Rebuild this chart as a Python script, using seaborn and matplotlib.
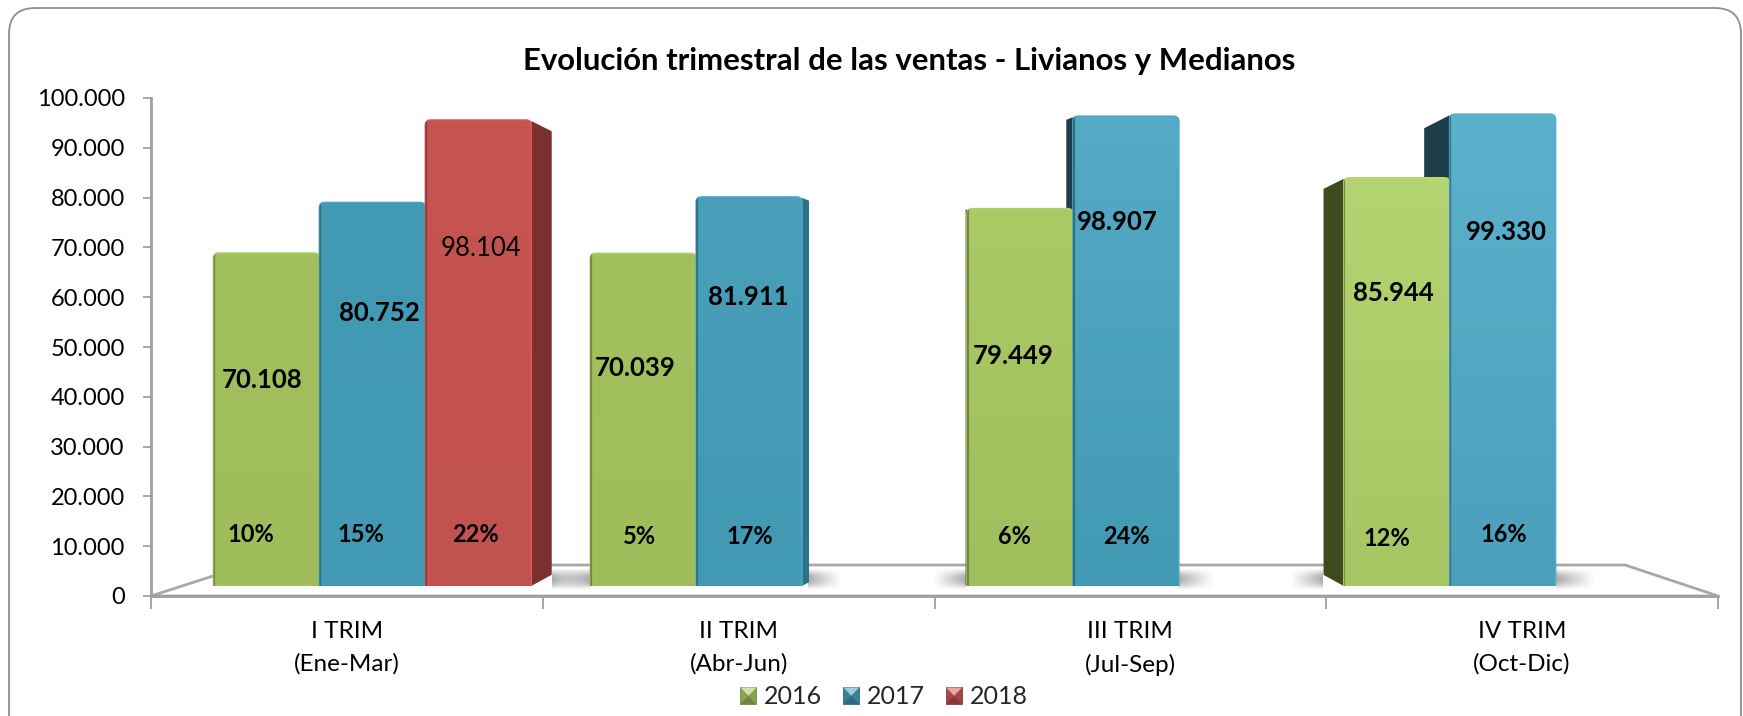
import matplotlib
matplotlib.use("Agg")
import matplotlib.pyplot as plt
import numpy as np
import pandas as pd
import seaborn as sns
from matplotlib.colors import to_rgb
from matplotlib.legend_handler import HandlerBase
from matplotlib.patches import FancyBboxPatch, Patch, Polygon, Rectangle

W, H = 1743, 716

trimestres = ["I TRIM\n(Ene-Mar)", "II TRIM\n(Abr-Jun)", "III TRIM\n(Jul-Sep)", "IV TRIM\n(Oct-Dic)"]
ventas_2016 = [70108, 70039, 79449, 85944]
ventas_2017 = [80752, 81911, 98907, 99330]
ventas_2018 = [98104, None, None, None]
pct_2016 = ["10%", "5%", "6%", "12%"]
pct_2017 = ["15%", "17%", "24%", "16%"]
pct_2018 = ["22%", None, None, None]
y_ticks = list(range(0, 100001, 10000))

# label centres, in figure pixels
value_xy = {
    "2016": [(262, 380), (635, 368), (1013, 356), (1393, 293)],
    "2017": [(379, 313), (748, 297), (1117, 222), (1506, 232)],
    "2018": [(481, 248), None, None, None],
}
pct_xy = {
    "2016": [(251, 534), (639, 536), (1014, 536), (1387, 538)],
    "2017": [(361, 534), (750, 536), (1126, 536), (1504, 534)],
    "2018": [(475, 534), None, None, None],
}

# (top, bottom) colour of the face per bar
face_colors = {
    "2016": [("#a2c05e", "#9fbe5b"), ("#a2c05e", "#9fbe5b"), ("#aaca66", "#a0bf5c"), ("#b3d470", "#a6c664")],
    "2017": [("#4299b4", "#4299b4"), ("#4a9fba", "#4299b4"), ("#55abc6", "#4299b4"), ("#5cb1cc", "#4a9fba")],
    "2018": [("#c6544f", "#c25250"), None, None, None],
}
palette = {"2016": "#a0bf5c", "2017": "#4299b4", "2018": "#c45350"}
side_right = {"2016": "#6b8238", "2017": "#2c7188", "2018": "#7b2f2f"}
side_left = {"2016": "#3f4a1f", "2017": "#1d3f4c", "2018": "#7b2f2f"}

rows = []
for anio, serie in zip(["2016", "2017", "2018"], [ventas_2016, ventas_2017, ventas_2018]):
    for trim, v in zip(trimestres, serie):
        if v is not None:
            rows.append({"trim": trim, "anio": anio, "ventas": v})
df = pd.DataFrame(rows)

sns.set_theme(style="white")
plt.rcParams["font.family"] = ["Lato", "DejaVu Sans"]


def axes_px(left, top, right, bottom, **kw):
    return fig.add_axes([left / W, 1 - bottom / H, (right - left) / W, (bottom - top) / H], **kw)


def to_px(ax, x, y):
    px, py = ax.transData.transform((x, y))
    return px, H - py


def soft_shadow(ax, near, far, top, bottom):
    # grey fading away from the bar, soft at the top and bottom
    gx, gy = np.meshgrid(np.linspace(0, 1, 60), np.linspace(0, 1, 30))
    alpha = (1 - gx) ** 1.1 * np.sin(np.pi * gy) ** 1.1 * 0.6
    img = np.zeros((30, 60, 4))
    img[..., :3] = 0.45
    img[..., 3] = alpha
    ax.imshow(img, extent=(near, far, bottom, top), aspect="auto", zorder=2, origin="upper")


class BevelHandler(HandlerBase):
    # little square with a light top and darker bottom, as the legend keys have
    def create_artists(self, legend, orig, xd, yd, w, h, fontsize, trans):
        c = np.array(to_rgb(orig.get_facecolor()))
        x0, y0, x1, y1 = -xd, -yd, -xd + w, -yd + h
        xm, ym = (x0 + x1) / 2, (y0 + y1) / 2
        light = c + (1 - c) * 0.5
        return [
            Rectangle((x0, y0), w, h, fc=c * 0.85, ec=c * 0.7, lw=0.6, transform=trans),
            Polygon([(x0, y1), (x1, y1), (xm, ym)], closed=True, fc=light, ec="none", transform=trans),
            Polygon([(x0, y0), (x1, y0), (xm, ym)], closed=True, fc=c * 0.7, ec="none", transform=trans),
        ]


fig = plt.figure(figsize=(W / 100, H / 100), dpi=100, facecolor="white")

# pixel canvas for the frame, chart floor, shadows and bar sides
canvas = fig.add_axes([0, 0, 1, 1], zorder=0)
canvas.axis("off")
canvas.add_patch(FancyBboxPatch((9, 8), W - 11, H + 30, boxstyle="round,pad=0,rounding_size=26",
                                fc="white", ec="#8f8f8f", lw=1.3))

# value axis
base = axes_px(151, 98, 1718, 596, zorder=1)
base.patch.set_alpha(0)
base.set_xlim(-0.5, 3.5)
base.set_ylim(0, 100000)
base.set_yticks(y_ticks)
base.set_yticklabels([f"{t:,}".replace(",", ".") for t in y_ticks], fontsize=17, color="black")
base.set_xticks(np.arange(-0.5, 3.6, 1))
base.set_xticklabels([])
base.set_xticks(range(4), minor=True)
base.set_xticklabels(trimestres, minor=True, fontsize=17.5, color="black", linespacing=1.65)
base.tick_params(axis="x", which="minor", length=0, pad=18)
base.tick_params(axis="x", which="major", length=9, width=1.2, color="#9a9a9a", bottom=True)
base.tick_params(axis="y", length=5.8, width=1.2, color="#9a9a9a", left=True, pad=13)
sns.despine(ax=base)
for s in ["left", "bottom"]:
    base.spines[s].set_color("#a0a0a0")
    base.spines[s].set_linewidth(2)

# bars, in their own axis because the 3D floor sits above the value axis origin
bars = axes_px(184, 111, 1691, 586, zorder=2)
bars.patch.set_alpha(0)
sns.barplot(data=df, x="trim", y="ventas", hue="anio", order=trimestres, hue_order=["2016", "2017", "2018"],
            palette=palette, width=0.8435, saturation=1, legend=False, ax=bars)
bars.set_xlim(-0.5, 3.5)
bars.set_ylim(0, 100000)
bars.axis("off")

# floor
fl, fb = to_px(base, -0.5, 0)
fr, _ = to_px(base, 3.5, 0)
floor_y = fb - 31
canvas.add_patch(Polygon([(fl, fb), (fl + 96, floor_y), (fr - 93, floor_y), (fr, fb)], closed=True,
                         fc="white", ec="#a8a8a8", lw=2, zorder=1))

for near, far in [(552, 590), (590, 560), (808, 842), (966, 933), (1178, 1214), (1323, 1290), (1556, 1596)]:
    soft_shadow(canvas, near, far, 568, 590)

# side faces and shaded fronts
fig.canvas.draw()
vanish_x, depth = 940, 0.05
aspect = (1507 / 4) / (475 / 100000)
for anio, cont in zip(["2016", "2017", "2018"], bars.containers):
    for patch in cont:
        x0 = patch.get_x()
        x1 = x0 + patch.get_width()
        h = patch.get_height()
        if np.isnan(h):
            continue
        k = int(round(x0 + patch.get_width() / 2 + 0.05))
        pl, ptop = to_px(bars, x0, h)
        pr, pbot = to_px(bars, x1, 0)
        for edge, cols, show in ((pr, side_right, pr < vanish_x), (pl, side_left, pl > vanish_x)):
            if not show:
                continue
            dx = (vanish_x - edge) * depth
            dy = abs(dx) * 0.55
            canvas.add_patch(Polygon([(edge, ptop + 1), (edge + dx, ptop + dy), (edge + dx, pbot - dy), (edge, pbot)],
                                     closed=True, fc=cols[anio], ec="none", zorder=4))

        # vertical shading of the face, with rounded top corners
        top_c, bot_c = face_colors[anio][k]
        grad = np.linspace(0, 1, 64)[:, None, None]
        img = (1 - grad) * np.array(to_rgb(top_c)) + grad * np.array(to_rgb(bot_c))
        im = bars.imshow(img, extent=(x0, x1, 0, h), aspect="auto", zorder=3, origin="upper")
        patch.set_visible(False)
        box = dict(boxstyle="round,pad=0,rounding_size=0.014", mutation_aspect=aspect, transform=bars.transData)
        shape = FancyBboxPatch((x0, -8000), x1 - x0, h + 8000, fc="none", ec="none", **box)
        bars.add_patch(shape)
        im.set_clip_path(shape)
        c = np.array(to_rgb(bot_c))
        bars.add_patch(FancyBboxPatch((x0, -8000), x1 - x0, h + 8000, fc="none", ec=np.minimum(c * 1.1, 1), lw=1.1,
                                      zorder=4, **box))
        left_line, = bars.plot([x0 + 0.002, x0 + 0.002], [0, h], color=c * 0.72, lw=1.6, zorder=4, solid_capstyle="butt")
        left_line.set_clip_path(shape)
bars.set_xlim(-0.5, 3.5)
bars.set_ylim(0, 100000)
canvas.set_xlim(0, W)
canvas.set_ylim(H, 0)

fig.text(909 / W, 1 - 61 / H, "Evolución trimestral de las ventas - Livianos y Medianos",
         ha="center", va="center", fontsize=22.4, fontweight="bold", color="black")

for anio in ["2016", "2017", "2018"]:
    serie = {"2016": ventas_2016, "2017": ventas_2017, "2018": ventas_2018}[anio]
    pcts = {"2016": pct_2016, "2017": pct_2017, "2018": pct_2018}[anio]
    for v, p, vp, pp in zip(serie, pcts, value_xy[anio], pct_xy[anio]):
        if v is None:
            continue
        fig.text(vp[0] / W, 1 - vp[1] / H, f"{v:,}".replace(",", "."), ha="center", va="center", fontsize=18.5,
                 fontweight="normal" if anio == "2018" else "bold", color="black", zorder=10)
        fig.text(pp[0] / W, 1 - pp[1] / H, p, ha="center", va="center", fontsize=17, fontweight="bold",
                 color="black", zorder=10)

handles = [Patch(fc=palette[a], label=a) for a in ["2016", "2017", "2018"]]
fig.legend(handles=handles, loc="center", bbox_to_anchor=(884 / W, 1 - 697 / H), ncol=3, frameon=False,
           fontsize=18, handlelength=0.64, handleheight=0.64, handletextpad=0.3, columnspacing=0.85,
           borderpad=0, handler_map={Patch: BevelHandler()})

fig.savefig("out.png", dpi=100)
